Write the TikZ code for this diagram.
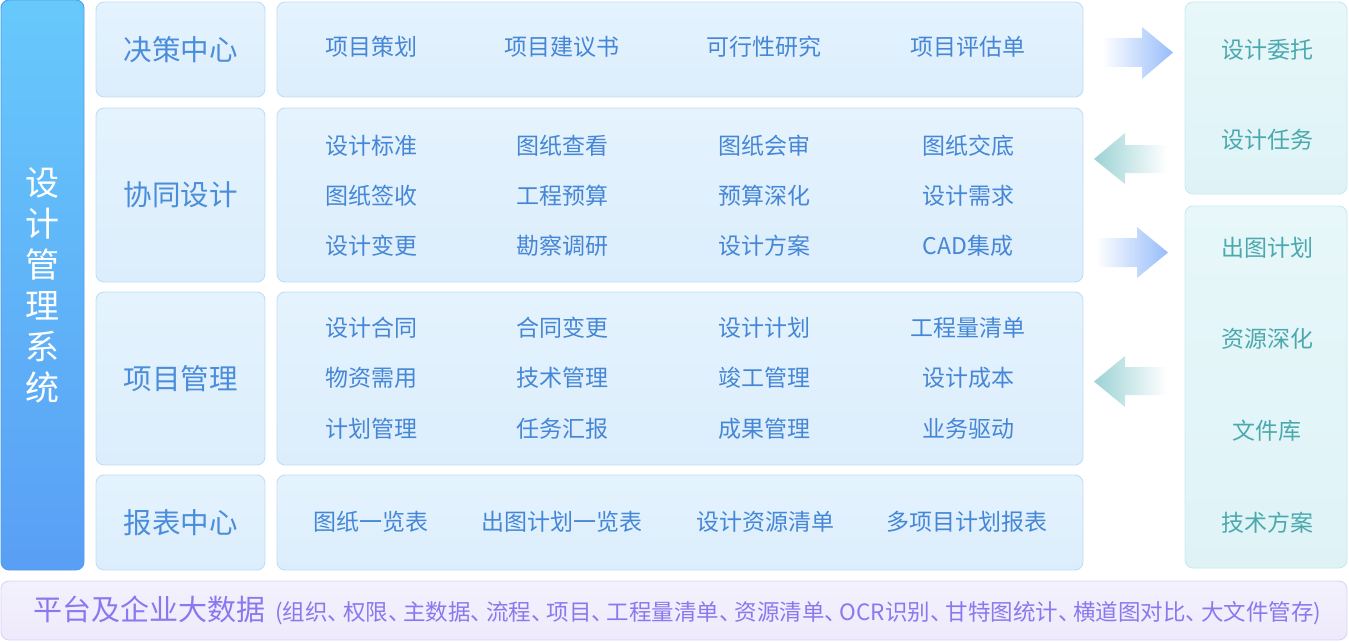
\documentclass[tikz,border=0pt]{standalone}
\usepackage{fontspec}
\setmainfont{Noto Sans CJK SC}
\newcommand\pdun{、\hspace{-0.32em}}
\definecolor{lbTop}{HTML}{67C9FB}
\definecolor{lbBot}{HTML}{599FF5}
\definecolor{lbBorder}{HTML}{4F9CEF}
\definecolor{catTop}{HTML}{E4F3FD}
\definecolor{catBot}{HTML}{DCEDFC}
\definecolor{catBorder}{HTML}{BEDEF7}
\definecolor{catText}{HTML}{4A8DDA}
\definecolor{itemBlue}{HTML}{4587D6}
\definecolor{rTop}{HTML}{E7F7FA}
\definecolor{rBot}{HTML}{DFF3F6}
\definecolor{rBorder}{HTML}{C8EAF0}
\definecolor{tealText}{HTML}{4BA9AE}
\definecolor{bTop}{HTML}{F4F1FD}
\definecolor{bBot}{HTML}{EEEAFC}
\definecolor{bBorder}{HTML}{DAD3F7}
\definecolor{purp}{HTML}{8A79EE}
\definecolor{arrBlue}{HTML}{96BCFA}
\definecolor{arrTeal}{HTML}{9CD2D5}
\begin{document}
\begin{tikzpicture}[x=1pt,y=-1pt,
  box/.style={draw, line width=0.9pt, rounded corners=8pt, inner sep=0pt},
  leftbar/.style={box, draw=lbBorder, top color=lbTop, bottom color=lbBot, text=white,
    font=\fontsize{34}{41}\selectfont, align=center, minimum width=83pt, minimum height=570pt},
  catbox/.style={box, draw=catBorder, top color=catTop, bottom color=catBot, text=catText,
    font=\fontsize{28.5}{28.5}\selectfont, minimum width=169pt},
  conbox/.style={box, draw=catBorder, top color=catTop, bottom color=catBot, minimum width=806pt},
  rbox/.style={box, draw=rBorder, top color=rTop, bottom color=rBot, minimum width=162pt},
  botbar/.style={box, draw=bBorder, top color=bTop, bottom color=bBot, minimum width=1346pt, minimum height=59pt},
  item/.style={text=itemBlue, font=\fontsize{23}{23}\selectfont, inner sep=0pt},
  ritem/.style={text=tealText, font=\fontsize{23}{23}\selectfont, inner sep=0pt},
  rarrow/.style={left color=white, right color=arrBlue},
  larrow/.style={left color=arrTeal, right color=white}
]
\useasboundingbox (0,0) rectangle (1349,642);

% left bar
\node[leftbar] (sys) at (42.5,285) {设\\计\\管\\理\\系\\统};

% category boxes
\node[catbox, minimum height=95pt]  (c1) at (180.5,49.5) {决策中心};
\node[catbox, minimum height=174pt] (c2) at (180.5,195) {协同设计};
\node[catbox, minimum height=173pt] (c3) at (180.5,378.5) {项目管理};
\node[catbox, minimum height=95pt]  (c4) at (180.5,522.5) {报表中心};

% content boxes
\node[conbox, minimum height=95pt]  (b1) at (680,49.5) {};
\node[conbox, minimum height=174pt] (b2) at (680,195) {};
\node[conbox, minimum height=173pt] (b3) at (680,378.5) {};
\node[conbox, minimum height=95pt]  (b4) at (680,522.5) {};

% right boxes
\node[rbox, minimum height=192pt] (r1) at (1266,98) {};
\node[rbox, minimum height=362pt] (r2) at (1266,387) {};

% bottom bar
\node[botbar] (bot) at (674,610.5) {};

% row 1 items
\node[item] (i11) at (371,47) {项目策划};
\node[item] (i12) at (562,47) {项目建议书};
\node[item] (i13) at (764,47) {可行性研究};
\node[item] (i14) at (968,47) {项目评估单};
% row 2 items
\node[item] (i21) at (371,146) {设计标准};
\node[item] (i22) at (562,146) {图纸查看};
\node[item] (i23) at (764,146) {图纸会审};
\node[item] (i24) at (968,146) {图纸交底};
\node[item] (i25) at (371,196) {图纸签收};
\node[item] (i26) at (562,196) {工程预算};
\node[item] (i27) at (764,196) {预算深化};
\node[item] (i28) at (968,196) {设计需求};
\node[item] (i29) at (371,246) {设计变更};
\node[item] (i2a) at (562,246) {勘察调研};
\node[item] (i2b) at (764,246) {设计方案};
\node[item] (i2c) at (968,246) {CAD集成};
% row 3 items
\node[item] (i31) at (371,328) {设计合同};
\node[item] (i32) at (562,328) {合同变更};
\node[item] (i33) at (764,328) {设计计划};
\node[item] (i34) at (968,328) {工程量清单};
\node[item] (i35) at (371,378) {物资需用};
\node[item] (i36) at (562,378) {技术管理};
\node[item] (i37) at (764,378) {竣工管理};
\node[item] (i38) at (968,378) {设计成本};
\node[item] (i39) at (371,429) {计划管理};
\node[item] (i3a) at (562,429) {任务汇报};
\node[item] (i3b) at (764,429) {成果管理};
\node[item] (i3c) at (968,429) {业务驱动};
% row 4 items
\node[item] (i41) at (371,522) {图纸一览表};
\node[item] (i42) at (562,522) {出图计划一览表};
\node[item] (i43) at (765,522) {设计资源清单};
\node[item] (i44) at (967,522) {多项目计划报表};

% right items
\node[ritem] (t1) at (1267,49.5) {设计委托};
\node[ritem] (t2) at (1267,140) {设计任务};
\node[ritem] (t3) at (1267,247.5) {出图计划};
\node[ritem] (t4) at (1267,339) {资源深化};
\node[ritem] (t5) at (1267,431) {文件库};
\node[ritem] (t6) at (1267,523) {技术方案};

% block arrows
\path[rarrow] (1102,38) -- (1142,38) -- (1142,27) -- (1173,52.5) -- (1142,79) -- (1142,67) -- (1102,67) -- cycle;
\path[larrow] (1094,159) -- (1125,133) -- (1125,145) -- (1167,145) -- (1167,173) -- (1125,173) -- (1125,184) -- cycle;
\path[rarrow] (1096,238) -- (1137,238) -- (1137,227) -- (1168,252.5) -- (1137,278) -- (1137,267) -- (1096,267) -- cycle;
\path[larrow] (1094,381.5) -- (1125,356) -- (1125,367) -- (1167,367) -- (1167,395) -- (1125,395) -- (1125,407) -- cycle;

% bottom text
\node[anchor=west, inner sep=0pt, text=purp] (bt) at (33,610.5)
  {{\fontsize{29}{29}\selectfont 平台及企业大数据}\hspace{10pt}{\fontsize{22.5}{23}\selectfont (组织\pdun 权限\pdun 主数据\pdun 流程\pdun 项目\pdun 工程量清单\pdun 资源清单\pdun OCR识别\pdun 甘特图统计\pdun 横道图对比\pdun 大文件管存)}};
\end{tikzpicture}
\end{document}
